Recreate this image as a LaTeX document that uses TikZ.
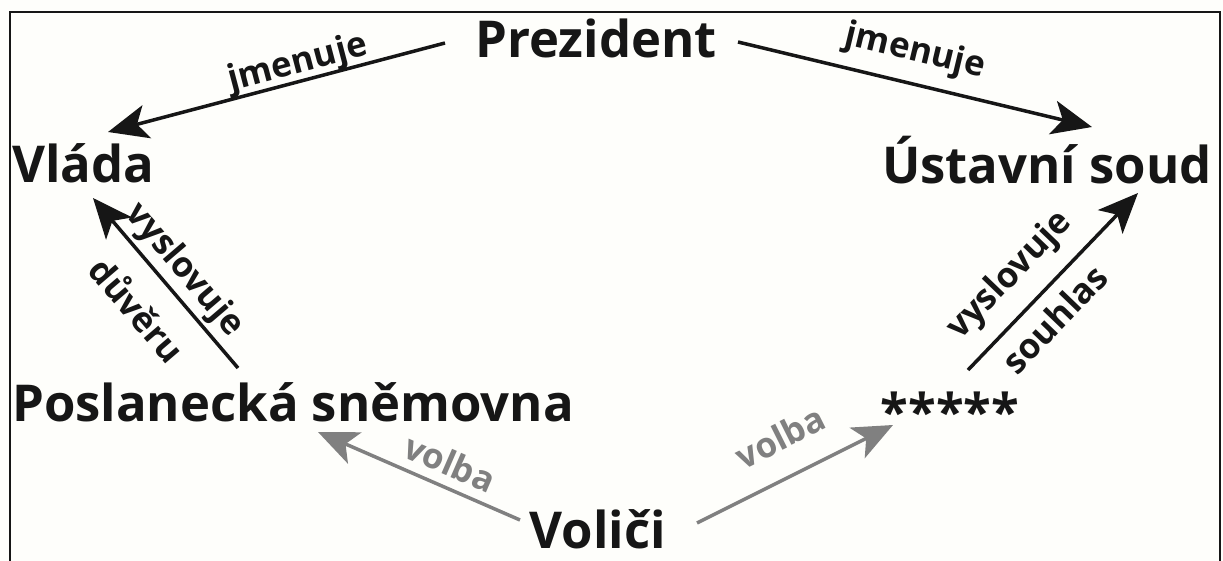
\documentclass[tikz,border=0pt]{standalone}
\usepackage{fontspec}
\setmainfont{Open Sans}
\usetikzlibrary{arrows.meta}
\definecolor{ink}{RGB}{22,22,22}
\definecolor{grayink}{RGB}{128,128,128}
\definecolor{paper}{RGB}{254,254,251}
\begin{document}
\begin{tikzpicture}[x=1bp,y=-1bp,
  main/.style={font=\fontsize{51}{54}\selectfont\bfseries, text=ink, inner sep=0pt},
  lab/.style={font=\fontsize{35}{66}\selectfont\bfseries, text=ink, inner sep=0pt, align=center},
  glab/.style={lab, text=grayink},
  arr/.style={-{Stealth[length=40bp,width=34bp,inset=10bp]}, line width=3.5bp, draw=ink},
  garr/.style={arr, draw=grayink}]
\useasboundingbox (0,0) rectangle (1223,561);
\fill[paper] (0,0) rectangle (1223,561);
\draw[line width=2.5bp, ink] (10,561) -- (10,12) -- (1220,12) -- (1220,561);
% main nodes
\node[main, anchor=base] (prez) at (596,58) {Prezident};
\node[main, anchor=base west] (vlada) at (12,183) {Vláda};
\node[main, anchor=base east] (ustav) at (1212,184) {Ústavní soud};
\node[main, anchor=base west] (posl) at (12,421) {Poslanecká sněmovna};
\node[main, anchor=base] (stars) at (950,430) {*****};
\node[main, anchor=base] (volici) at (598,548) {Voliči};
% arrows
\draw[arr] ([shift={(-151,-15)}]prez.base) -- ([shift={(96,-51)}]vlada.base west);
\draw[arr] ([shift={(142,-16)}]prez.base) -- ([shift={(-120,-57)}]ustav.base east);
\draw[arr] ([shift={(226,-53)}]posl.base west) -- ([shift={(81,15)}]vlada.base west);
\draw[arr] ([shift={(18,-60)}]stars.base) -- ([shift={(-74,9)}]ustav.base east);
\draw[garr] ([shift={(-78,-28)}]volici.base) -- ([shift={(306,11)}]posl.base west);
\draw[garr] ([shift={(99,-25)}]volici.base) -- ([shift={(-57,-5)}]stars.base);
% labels
\node[lab, rotate=14.8] (lj) at (298,64) {jmenuje};
\node[lab, rotate=-13.5] (rj) at (915,52) {jmenuje};
\node[lab, rotate=-49.5] (lv) at (162,289) {vyslovuje\\důvěru};
\node[lab, rotate=46.2] (rv) at (1031,296) {vyslovuje\\souhlas};
\node[glab, rotate=-23.5] (lg) at (450,463) {volba};
\node[glab, rotate=26.6] (rg) at (780,437) {volba};
\end{tikzpicture}
\end{document}
